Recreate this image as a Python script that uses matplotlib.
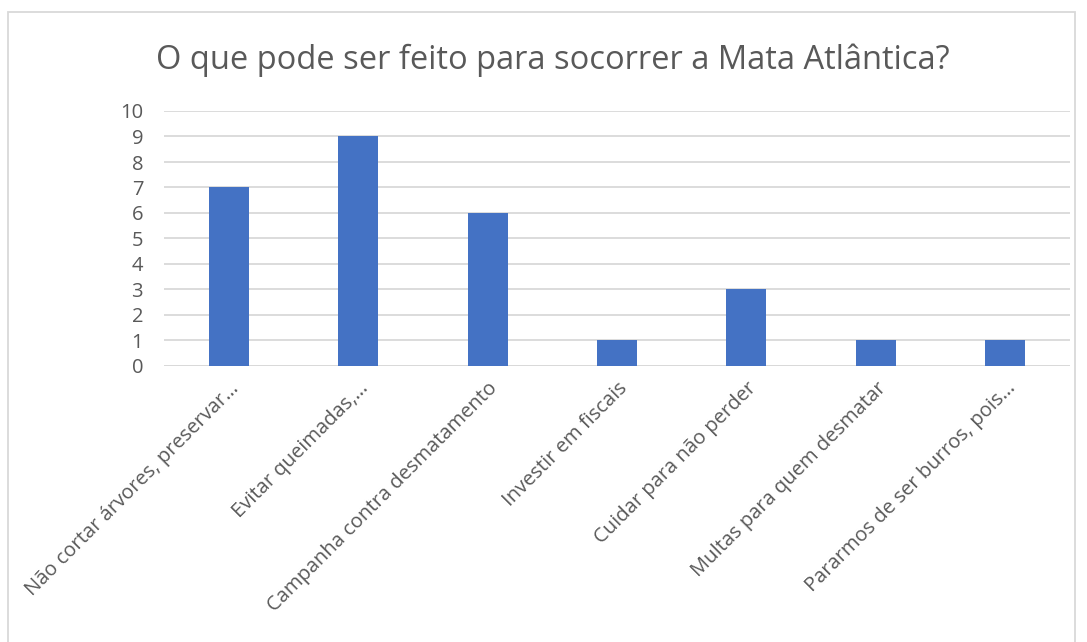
import matplotlib
matplotlib.use("Agg")
import matplotlib.pyplot as plt
from matplotlib.patches import Rectangle
import numpy as np

categories = [
    "Não cortar árvores, preservar…",
    "Evitar queimadas,…",
    "Campanha contra desmatamento",
    "Investir em fiscais",
    "Cuidar para não perder",
    "Multas para quem desmatar",
    "Pararmos de ser burros, pois…",
]
values = [7, 9, 6, 1, 3, 1, 1]
yticks = list(range(0, 11))

plt.rcParams['font.family'] = ['Open Sans', 'DejaVu Sans']
text_color = "#595959"

fig = plt.figure(figsize=(10.87, 6.42), dpi=100)
ax = fig.add_axes([164/1087, 1 - 366/642, 906/1087, 255/642])

ind = np.arange(len(categories))
ax.bar(ind, values, width=0.31, color="#4472C4", zorder=3)

ax.set_xlim(-0.5, len(categories) - 0.5)
ax.set_ylim(0, 10)
ax.set_yticks(yticks)
ax.set_yticklabels([str(t) for t in yticks])
ax.grid(axis="y", color="#d9d9d9", linewidth=1.3, zorder=0)
ax.set_axisbelow(True)
for s in ax.spines.values():
    s.set_visible(False)
ax.axhline(0, color="#d9d9d9", linewidth=1.3, zorder=2)

ax.tick_params(axis="y", length=0, labelsize=14.5, labelcolor=text_color, pad=15)
ax.tick_params(axis="x", length=0, labelsize=14.5, labelcolor=text_color, pad=9)
ax.set_xticks(ind)
ax.set_xticklabels(categories, rotation=45, ha="right", rotation_mode="anchor")

fig.text(553/1087, 1 - 60/642, "O que pode ser feito para socorrer a Mata Atlântica?",
         ha="center", va="center", fontsize=23.5, color=text_color)

fig.patches.append(Rectangle((8/1087, -0.1), (1075 - 8)/1087, 1.1 - 12/642,
                             transform=fig.transFigure, fill=False,
                             edgecolor="#d9d9d9", linewidth=1.3))

fig.savefig("out.png", dpi=100)
